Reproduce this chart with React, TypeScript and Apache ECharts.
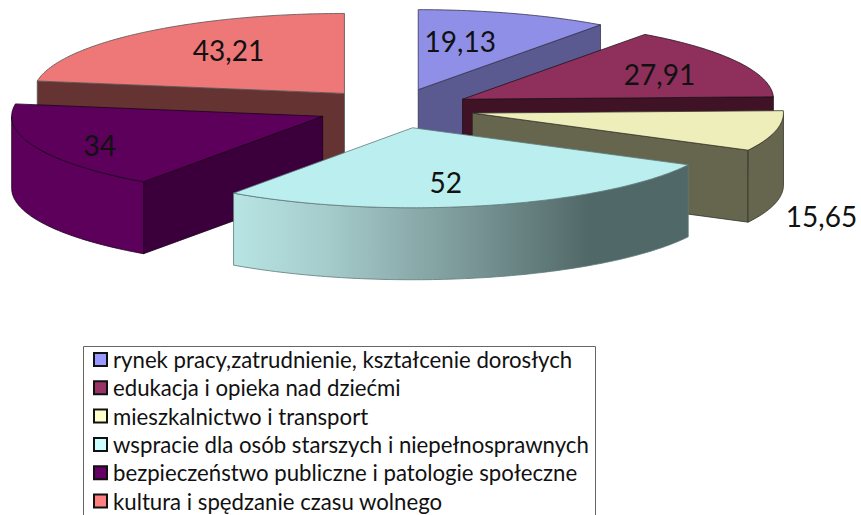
import React, { useEffect, useRef } from "react";
import * as echarts from "echarts";

const categories = [
  "rynek pracy,zatrudnienie, kształcenie dorosłych",
  "edukacja i opieka nad dziećmi",
  "mieszkalnictwo i transport",
  "wspracie dla osób starszych i niepełnosprawnych",
  "bezpieczeństwo publiczne i patologie społeczne",
  "kultura i spędzanie czasu wolnego",
];
const values = [19.13, 27.91, 15.65, 52, 34, 43.21];
const legendColors = ["#9999ff", "#993366", "#ffffcc", "#ccffff", "#660066", "#ff8080"];
const topColors = ["#8f8fe8", "#8f2f5c", "#eeeebb", "#bbeeee", "#5c005c", "#ee7777"];
const cutColors = ["#5a5a90", "#401226", "#66664f", "#516868", "#3b003b", "#663333"];
const wallColors = ["#5a5a90", "#401226", "#66664f", "#516868", "#5c005c", "#663333"];
const edgeColors = ["#33334f", "#22101a", "#33332a", "#5f7a7a", "#1a001a", "#555555"];
const paintOrder = [5, 0, 1, 2, 4, 3];
const explodeBy = [77, 77, 80, 77, 78, 77];
const labelOffsets = [
  [42, -49],
  [197, -25],
  [349, 103],
  [33, 54],
  [-223, 29],
  [-116, -43],
];

const CX = 394.5;
const CY = 108.5;
const RX = 311;
const RY = 80;
const DEPTH = 72;
const RAD = Math.PI / 180;
const TOTAL = values.reduce((a, b) => a + b, 0);

const arcPoints = (ax: number, ay: number, from: number, to: number) => {
  const pts: number[][] = [];
  const n = Math.max(2, Math.ceil(Math.abs(to - from)));
  for (let i = 0; i <= n; i++) {
    const a = (from + ((to - from) * i) / n) * RAD;
    pts.push([ax + RX * Math.sin(a), ay - RY * Math.cos(a)]);
  }
  return pts;
};

const renderSlice = (index: number) => (_params: any, api: any) => {
  const value = api.value(0);
  let start = 0;
  for (let i = 0; i < index; i++) start += (values[i] / TOTAL) * 360;
  const end = start + (value / TOTAL) * 360;
  const mid = ((start + end) / 2) * RAD;
  const ax = CX + explodeBy[index] * Math.sin(mid);
  const ay = CY - (explodeBy[index] * RY * Math.cos(mid)) / RX;
  const stroke = edgeColors[index];
  const children: any[] = [];
  const face = (points: number[][], fill: any) =>
    children.push({
      type: "polygon",
      shape: { points },
      style: { fill, stroke, lineWidth: 0.8 },
    });
  const cut = (angle: number) => {
    const [[x, y]] = arcPoints(ax, ay, angle, angle + 1);
    face(
      [
        [ax, ay],
        [x, y],
        [x, y + DEPTH],
        [ax, ay + DEPTH],
      ],
      cutColors[index]
    );
  };
  if (start > 180) cut(start);
  if (end < 180) cut(end);
  const wallFrom = Math.max(start, 90);
  const wallTo = Math.min(end, 270);
  if (wallTo > wallFrom) {
    const arc = arcPoints(ax, ay, wallFrom, wallTo);
    const lower = arc.map(([x, y]) => [x, y + DEPTH]).reverse();
    const fill =
      index === 3
        ? new echarts.graphic.LinearGradient(0, 0, 1, 0, [
            { offset: 0, color: "#b8e4e4" },
            { offset: 0.2, color: "#a6cccc" },
            { offset: 0.5, color: "#7d9a9a" },
            { offset: 0.78, color: "#516868" },
            { offset: 1, color: "#516868" },
          ])
        : wallColors[index];
    face([...arc, ...lower], fill);
  }
  face([[ax, ay], ...arcPoints(ax, ay, start, end)], topColors[index]);
  children.push({
    type: "text",
    x: ax + labelOffsets[index][0],
    y: ay + labelOffsets[index][1],
    style: {
      text: String(value).replace(".", ","),
      font: "28px Lato",
      fill: "#111",
      align: "center",
      verticalAlign: "middle",
    },
  });
  return { type: "group", children };
};

export default function App() {
  const ref = useRef<HTMLDivElement>(null);
  useEffect(() => {
    document.body.style.margin = "0";
    const chart = echarts.init(ref.current!, null, { renderer: "svg" });
    chart.setOption({
      animation: false,
      backgroundColor: "#fff",
      graphic: [
        {
          type: "rect",
          silent: true,
          shape: { x: 83.5, y: 346.5, width: 512, height: 200 },
          style: { fill: "#fff", stroke: "#666", lineWidth: 1 },
        },
      ],
      legend: {
        orient: "vertical",
        left: 83,
        top: 346,
        height: 300,
        data: categories,
        icon: "rect",
        itemWidth: 13,
        itemHeight: 13,
        itemGap: 5.3,
        padding: [2, 6, 2, 10],
        selectedMode: false,
        z: 20,
        itemStyle: { borderColor: "#111", borderWidth: 2 },
        textStyle: { fontFamily: "Lato", fontSize: 22.2, color: "#111", padding: [0, 0, 0, 1], lineHeight: 23 },
      },
      series: categories.map((name, i) => ({
        type: "custom",
        name,
        coordinateSystem: "none",
        z: 2 + paintOrder.indexOf(i),
        silent: true,
        itemStyle: { color: legendColors[i] },
        renderItem: renderSlice(i),
        data: [[values[i]]],
      })),
    });
    return () => chart.dispose();
  }, []);
  return <div ref={ref} style={{ position: "fixed", left: 0, top: 0, width: 861, height: 515 }} />;
}
